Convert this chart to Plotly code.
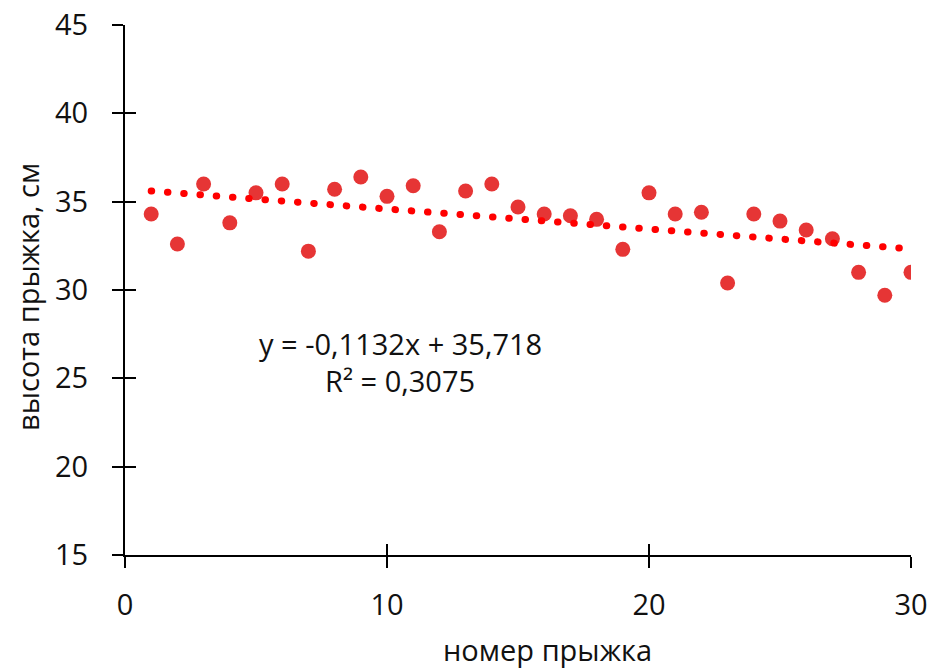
import plotly.graph_objects as go

# ---- data ----
jump_number = list(range(1, 31))
jump_height = [34.3, 32.6, 36.0, 33.8, 35.5, 36.0, 32.2, 35.7, 36.4, 35.3,
               35.9, 33.3, 35.6, 36.0, 34.7, 34.3, 34.2, 34.0, 32.3, 35.5,
               34.3, 34.4, 30.4, 34.3, 33.9, 33.4, 32.9, 31.0, 29.7, 31.0]
trend_slope = -0.1132
trend_intercept = 35.718
r_squared = 0.3075
x_ticks = [0, 10, 20, 30]
y_ticks = [15, 20, 25, 30, 35, 40, 45]

FONT = "Open Sans"
x_min, x_max = min(jump_number), max(jump_number)
trend_x = [x_min, x_max]
trend_y = [trend_slope * v + trend_intercept for v in trend_x]


def ru_num(v, digits):
    return f"{v:.{digits}f}".replace(".", ",")


eq_text = f"y = {ru_num(trend_slope, 4)}x + {ru_num(trend_intercept, 3)}"
r2_text = f"R² = {ru_num(r_squared, 4)}"

fig = go.Figure()
fig.add_trace(go.Scatter(
    x=jump_number, y=jump_height, mode="markers",
    marker=dict(size=15, color="#E63535", line=dict(width=0)),
    showlegend=False, hoverinfo="x+y",
))
fig.add_trace(go.Scatter(
    x=trend_x, y=trend_y, mode="lines",
    line=dict(color="#FF0000", width=7, dash="0.5px,15.8px"),
    showlegend=False, hoverinfo="skip",
))
# invisible trace on overlay axes (for inner halves of crossing ticks)
fig.add_trace(go.Scatter(x=[x_min], y=[jump_height[0]], xaxis="x2", yaxis="y2",
                         mode="markers", marker=dict(opacity=0), showlegend=False,
                         hoverinfo="skip"))

axis_common = dict(showgrid=False, zeroline=False, linecolor="black", linewidth=2,
                   tickcolor="black", tickwidth=2, ticklen=11, automargin=False)
fig.update_layout(
    width=935, height=668,
    margin=dict(l=125, r=24, t=25, b=113, autoexpand=False),
    paper_bgcolor="white", plot_bgcolor="white",
    font=dict(family=FONT, size=29, color="#111111"),
    xaxis=dict(range=[0, 30], tickvals=x_ticks, ticks="outside", showline=True,
               ticklabelstandoff=12, tickfont=dict(size=29), **axis_common),
    yaxis=dict(range=[15, 45], tickvals=y_ticks, ticks="outside", showline=True,
               ticklabelstandoff=18, tickfont=dict(size=29), **axis_common),
    xaxis2=dict(range=[0, 30], tickvals=x_ticks, ticks="inside", showline=False,
                showticklabels=False, overlaying="x", anchor="y2", **axis_common),
    yaxis2=dict(range=[15, 45], tickvals=y_ticks, ticks="inside", showline=False,
                showticklabels=False, overlaying="y", anchor="x2", **axis_common),
    annotations=[
        dict(text="номер прыжка", xref="paper", yref="paper", x=0.537, y=-0.178,
             showarrow=False, xanchor="center", yanchor="middle",
             font=dict(size=29, family=FONT)),
        dict(text="высота прыжка, см", xref="paper", yref="paper", x=-0.1234, y=0.487,
             showarrow=False, xanchor="center", yanchor="middle", textangle=-90,
             font=dict(size=29, family=FONT)),
        dict(text=eq_text, xref="x", yref="y", x=10.5, y=27.0, showarrow=False,
             xanchor="center", yanchor="middle", font=dict(size=29, family=FONT)),
        dict(text=r2_text, xref="x", yref="y", x=10.5, y=24.85, showarrow=False,
             xanchor="center", yanchor="middle", font=dict(size=29, family=FONT)),
    ],
)

post = """
document.body.style.margin = '0';
document.body.style.overflow = 'hidden';
var gd = document.getElementsByClassName('plotly-graph-div')[0];
function roundCaps(){
  document.querySelectorAll('.scatterlayer .trace .js-line').forEach(function(p){
    p.style.strokeLinecap = 'round';
  });
}
roundCaps();
gd.on('plotly_afterplot', roundCaps);
"""
fig.write_html("out.html", post_script=post, config={"displayModeBar": False})
